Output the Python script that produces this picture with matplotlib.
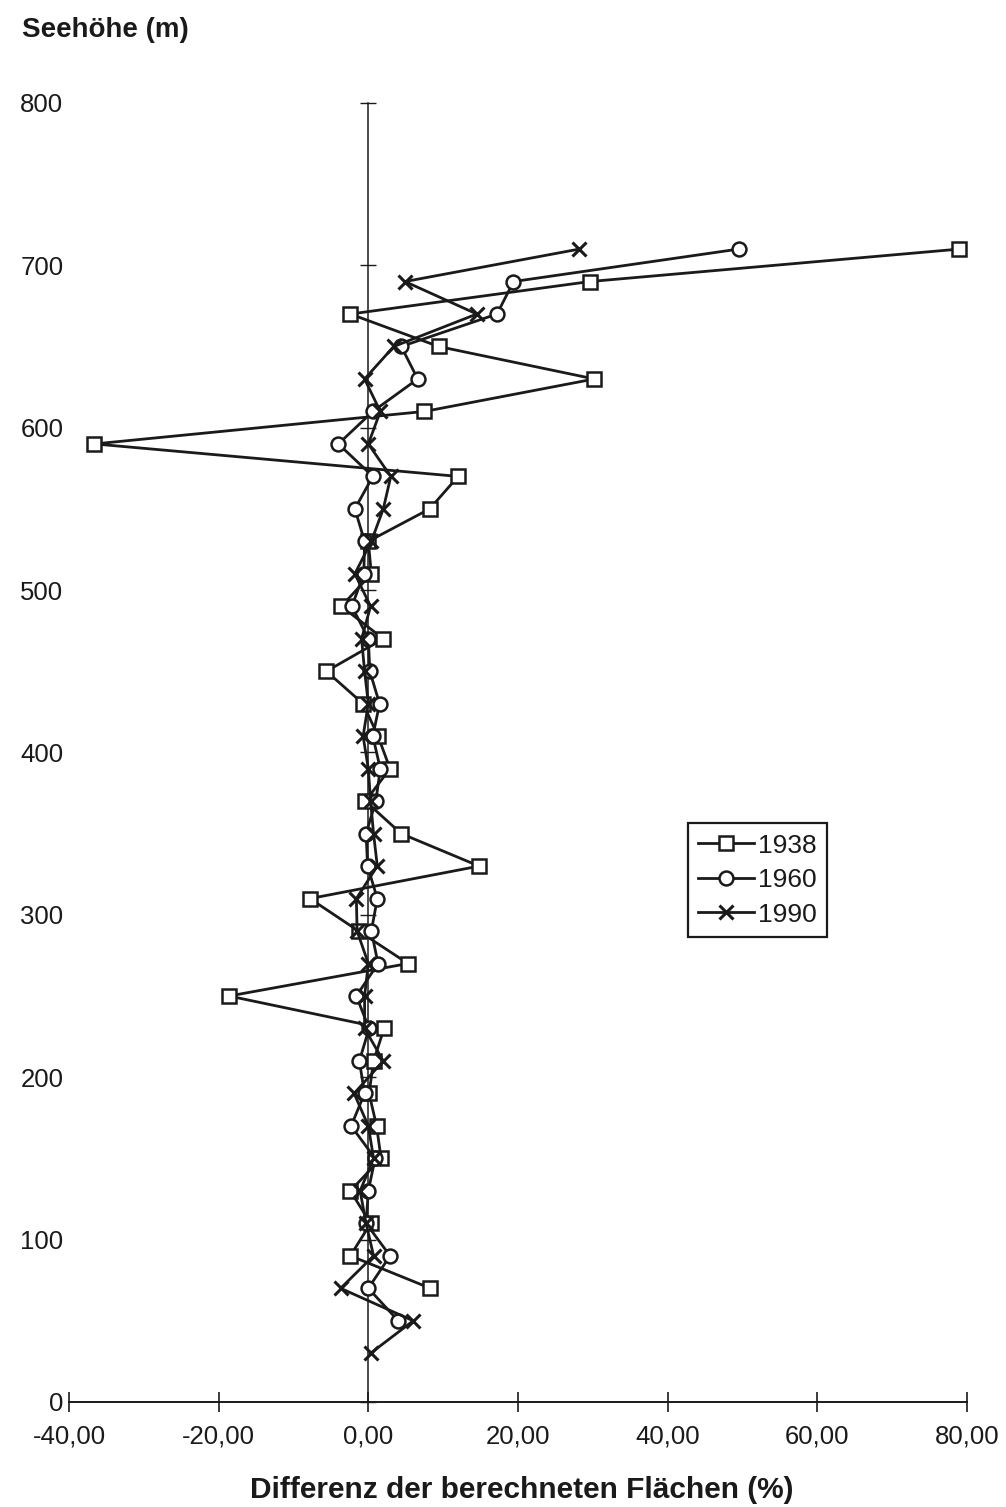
import matplotlib
matplotlib.use("Agg")
import matplotlib.pyplot as plt

plt.rcParams['font.family'] = ['Liberation Sans', 'DejaVu Sans']

# Heights (m) of the elevation bands
heights = [710, 690, 670, 650, 630, 610, 590, 570, 550, 530, 510, 490, 470, 450,
           430, 410, 390, 370, 350, 330, 310, 290, 270, 250, 230, 210, 190, 170,
           150, 130, 110, 90, 70, 50, 30]

# Difference of computed areas (%)
diff_1938 = [79.0, 29.6, -2.4, 9.4, 30.2, 7.5, -36.6, 12.0, 8.2, 0.0, 0.4, -3.6,
             2.0, -5.6, -0.7, 1.3, 2.9, -0.4, 4.4, 14.8, -7.8, -1.3, 5.3, -18.6,
             2.1, 0.7, 0.1, 1.1, 1.7, -2.4, 0.3, -2.4, 8.3]
diff_1960 = [49.5, 19.4, 17.2, 4.4, 6.6, 0.6, -4.0, 0.6, -1.8, -0.5, -0.6, -2.2,
             0.0, 0.2, 1.5, 0.6, 1.6, 1.0, -0.3, -0.1, 1.2, 0.4, 1.3, -1.6, 0.1,
             -1.2, -0.5, -2.3, 0.9, 0.0, -0.3, 2.9, 0.0, 4.0]
diff_1990 = [28.2, 4.9, 14.5, 3.4, -0.5, 1.6, 0.0, 3.0, 2.0, 0.4, -1.8, 0.3,
             -0.9, -0.5, 0.0, -0.7, 0.0, 0.3, 0.7, 1.2, -1.6, -1.5, 0.0, -0.5,
             -0.5, 2.0, -1.9, 0.0, 0.7, -1.1, -0.3, 0.7, -3.7, 6.0, 0.3]

series_labels = ["1938", "1960", "1990"]
x_ticks = [-40, -20, 0, 20, 40, 60, 80]
x_tick_labels = ["-40,00", "-20,00", "0,00", "20,00", "40,00", "60,00", "80,00"]
y_ticks = [0, 100, 200, 300, 400, 500, 600, 700, 800]
y_tick_labels = ["0", "100", "200", "300", "400", "500", "600", "700", "800"]

ink = "#1a1a1a"

fig = plt.figure(figsize=(10.06, 15.07), dpi=100)
ax = fig.add_axes([0.0686, 0.0697, 0.8926, 0.862])

common = dict(color=ink, lw=2.0, markersize=10, markeredgewidth=1.8,
              markerfacecolor="white", markeredgecolor=ink)
ax.plot(diff_1938, heights[:len(diff_1938)], marker="s", label=series_labels[0], **common)
ax.plot(diff_1960, heights[:len(diff_1960)], marker="o", label=series_labels[1], **common)
ax.plot(diff_1990, heights[:len(diff_1990)], marker="x", label=series_labels[2],
        **{**common, "markeredgewidth": 2.2})

ax.set_xlim(-40, 80)
ax.set_ylim(0, 800)

for s in ["top", "right", "left"]:
    ax.spines[s].set_visible(False)
ax.spines["bottom"].set_linewidth(1.4)
ax.spines["bottom"].set_color(ink)

ax.set_xticks(x_ticks)
ax.set_xticklabels(x_tick_labels)
ax.tick_params(axis="x", direction="inout", length=14, width=1.2, color=ink,
               labelsize=18.5, pad=9, labelcolor=ink)

ax.set_yticks(y_ticks)
ax.set_yticklabels(y_tick_labels)
ax.tick_params(axis="y", length=0, labelsize=18.5, pad=4, labelcolor=ink)

# vertical axis line crossing at x = 0
sec = ax.secondary_yaxis((0 - x_ticks[0]) / (x_ticks[-1] - x_ticks[0]))
sec.set_yticks(y_ticks)
sec.set_yticklabels([])
sec.tick_params(axis="y", direction="inout", length=12, width=1.0, color=ink)
sec.spines["left"].set_linewidth(1.1)
sec.spines["left"].set_color(ink)

leg = ax.legend(loc="upper left", bbox_to_anchor=(0.689, 0.4457), fontsize=19,
                frameon=True, fancybox=False, edgecolor=ink, framealpha=1,
                handlelength=2.1, handletextpad=0.15, labelspacing=0.4,
                borderpad=0.4, borderaxespad=0)
leg.get_frame().set_linewidth(1.6)
for t in leg.get_texts():
    t.set_color(ink)

fig.text(0.0219, 0.980, "Seehöhe (m)", fontsize=20, fontweight="bold",
         ha="left", va="center", color=ink)
fig.text(0.519, 0.0115, "Differenz der berechneten Flächen (%)", fontsize=21.5,
         fontweight="bold", ha="center", va="center", color=ink)

fig.savefig("out.png", dpi=100, facecolor="white")
